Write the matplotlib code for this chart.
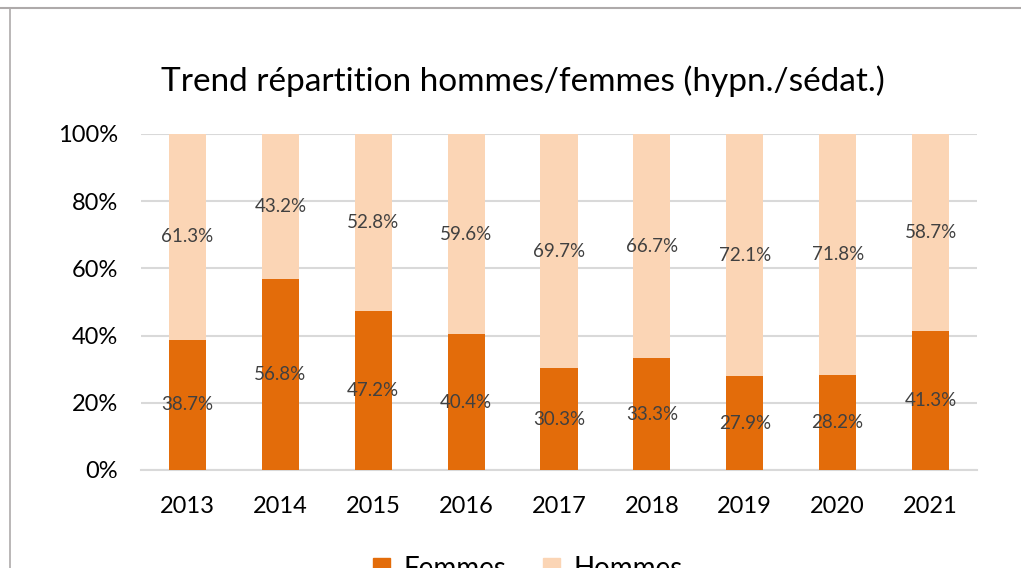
import matplotlib.pyplot as plt
import numpy as np
from matplotlib.lines import Line2D
from matplotlib.patches import Patch

annees = ['2013', '2014', '2015', '2016', '2017', '2018', '2019', '2020', '2021']
femmes = [38.7, 56.8, 47.2, 40.4, 30.3, 33.3, 27.9, 28.2, 41.3]
hommes = [61.3, 43.2, 52.8, 59.6, 69.7, 66.7, 72.1, 71.8, 58.7]

plt.rcParams['font.family'] = ['Lato', 'DejaVu Sans']

fig = plt.figure(figsize=(10.21, 5.68), dpi=100)
ax = fig.add_axes([141 / 1021, 1 - 470 / 568, 836 / 1021, 336 / 568])

x = np.arange(len(annees))
f = np.array(femmes) / 100
h = np.array(hommes) / 100
c_f = '#E36C0A'
c_h = '#FBD5B5'
ax.bar(x, f, width=0.4, color=c_f, zorder=3)
ax.bar(x, h, bottom=f, width=0.4, color=c_h, zorder=3)

for i in range(len(annees)):
    ax.text(x[i], f[i] / 2, f'{femmes[i]:.1f}%', ha='center', va='center',
            fontsize=13.5, color='#404040', zorder=4)
    ax.text(x[i], f[i] + h[i] / 2, f'{hommes[i]:.1f}%', ha='center', va='center',
            fontsize=13.5, color='#404040', zorder=4)

ax.set_xlim(-0.5, len(annees) - 0.5)
ax.set_ylim(0, 1)
ax.set_yticks(np.arange(0, 1.01, 0.2))
ax.set_yticklabels([f'{int(v * 100)}%' for v in np.arange(0, 1.01, 0.2)])
ax.set_xticks(x)
ax.set_xticklabels(annees)
ax.tick_params(axis='both', length=0, labelsize=17, colors='black')
ax.tick_params(axis='y', pad=16.5)
ax.tick_params(axis='x', pad=19)
ax.grid(axis='y', color='#D9D9D9', linewidth=1.5, zorder=0)
for s in ['top', 'right', 'left']:
    ax.spines[s].set_visible(False)
ax.spines['bottom'].set_color('#D9D9D9')
ax.spines['bottom'].set_linewidth(1.5)

fig.text(523 / 1021, 1 - 81 / 568, 'Trend répartition hommes/femmes (hypn./sédat.)',
         ha='center', va='center', fontsize=24, color='black')

handles = [Patch(color=c_f, label='Femmes'), Patch(color=c_h, label='Hommes')]
fig.legend(handles=handles, loc='center', bbox_to_anchor=(528 / 1021, -1 / 568),
           ncol=2, frameon=False, fontsize=20, handlelength=0.6, handleheight=0.6,
           columnspacing=1.3, handletextpad=0.5)

# cadre
fig.add_artist(Line2D([0, 1], [1 - 8 / 568, 1 - 8 / 568], color='#AEAAAA', linewidth=1.5))
fig.add_artist(Line2D([10 / 1021, 10 / 1021], [0, 1 - 8 / 568], color='#AEAAAA', linewidth=1.2))

fig.savefig('out.png', dpi=100)
